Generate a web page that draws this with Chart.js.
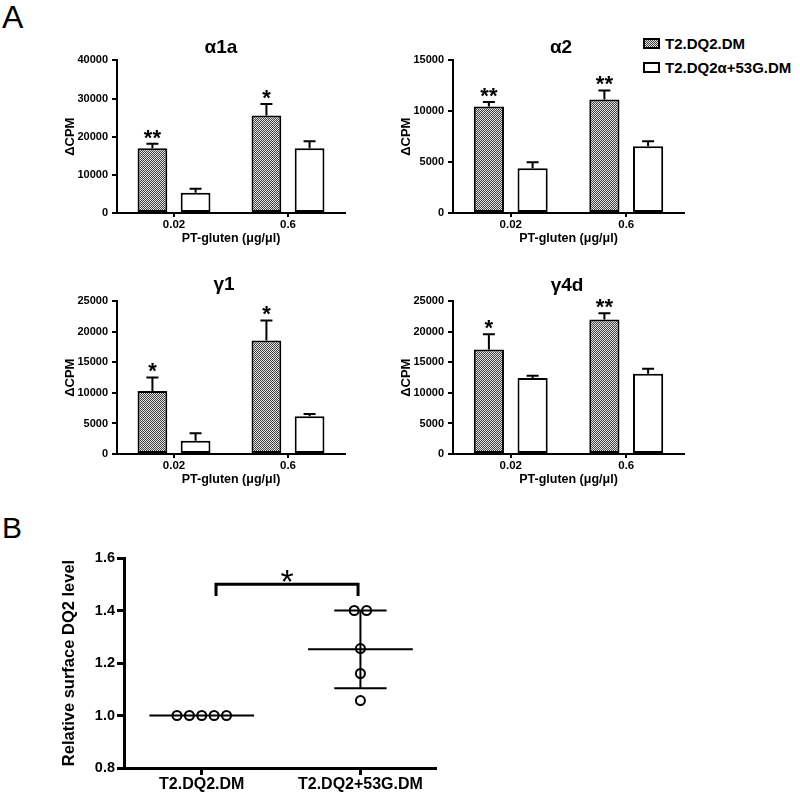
<!DOCTYPE html>
<html>
<head>
<meta charset="utf-8">
<script src="https://cdn.jsdelivr.net/npm/chart.js@4.4.0/dist/chart.umd.min.js"></script>
<style>
  html, body { margin: 0; padding: 0; background: #fff; width: 800px; height: 793px; overflow: hidden; }
  .box { position: absolute; }
  .lbl { position: absolute; font-family: 'Liberation Sans', Arial, sans-serif; color: #000; }
  #legend { position: absolute; left: 643px; top: 31px; font: bold 15px 'Liberation Sans', Arial, sans-serif; color: #000; }
  #legend .row { display: flex; align-items: center; height: 24px; white-space: nowrap; }
  #legend .sw { width: 13px; height: 7px; border: 2px solid #000; margin-right: 5px; background: #fff; }
  #legend .sw.pat { background: repeating-conic-gradient(#444 0% 25%, #e0e0e0 0% 50%) 0 0 / 2px 2px; }
</style>
</head>
<body>
<div class="lbl" style="left:2px;top:1px;font-size:32px;line-height:32px">A</div>
<div class="lbl" style="left:2px;top:513px;font-size:30px;line-height:30px">B</div>

<div id="legend">
  <div class="row"><span class="sw pat"></span>T2.DQ2.DM</div>
  <div class="row"><span class="sw"></span>T2.DQ2α+53G.DM</div>
</div>

<div class="box" style="left:63px;top:34px;width:316px;height:214px"><canvas id="cA1a"></canvas></div>
<div class="box" style="left:399px;top:34px;width:324px;height:214px"><canvas id="cA2"></canvas></div>
<div class="box" style="left:63px;top:271px;width:322px;height:218px"><canvas id="cG1"></canvas></div>
<div class="box" style="left:399px;top:272px;width:336px;height:217px"><canvas id="cG4d"></canvas></div>
<div class="box" style="left:60px;top:540px;width:385px;height:253px"><canvas id="cB"></canvas></div>

<script>
// ---- panel A data (ΔCPM, mean and upper error) ----
const doses = ['0.02', '0.6'];

const a1aDM = [16970, 25550];
const a1aDMErr = [1150, 3050];
const a1aG = [5330, 16970];
const a1aGErr = [1000, 1850];
const a1aStars = ['**', '*'];

const a2DM = [10470, 11160];
const a2DMErr = [430, 890];
const a2G = [4400, 6560];
const a2GErr = [590, 490];
const a2Stars = ['**', '**'];

const g1DM = [10340, 18600];
const g1DMErr = [2180, 3280];
const g1G = [2190, 6170];
const g1GErr = [1200, 400];
const g1Stars = ['*', '*'];

const g4dDM = [17120, 22040];
const g4dDMErr = [2510, 1030];
const g4dG = [12470, 13130];
const g4dGErr = [330, 820];
const g4dStars = ['*', '**'];

// ---- panel B data ----
const bGroups = ['T2.DQ2.DM', 'T2.DQ2+53G.DM'];
const bDM = [1.0, 1.0, 1.0, 1.0, 1.0];
const bG = [1.40, 1.40, 1.255, 1.16, 1.057];
const bMean = [1.0, 1.252];
const bSD = [0, 0.148];

const FONT = "'Liberation Sans', Arial, sans-serif";
Chart.defaults.font.family = FONT;
Chart.defaults.color = '#000';

function checker() {
  const c = document.createElement('canvas');
  c.width = 2; c.height = 2;
  const g = c.getContext('2d');
  g.fillStyle = '#e0e0e0';
  g.fillRect(0, 0, 2, 2);
  g.fillStyle = '#444';
  g.fillRect(0, 0, 1, 1);
  g.fillRect(1, 1, 1, 1);
  return g.createPattern(c, 'repeat');
}
const dotted = checker();

// upward error bars + significance stars
const errorBars = {
  id: 'errorBars',
  afterDatasetsDraw(chart) {
    const ctx = chart.ctx;
    const y = chart.scales.y;
    ctx.save();
    ctx.strokeStyle = '#000';
    ctx.fillStyle = '#000';
    ctx.lineWidth = 2;
    chart.data.datasets.forEach((ds, i) => {
      chart.getDatasetMeta(i).data.forEach((bar, j) => {
        const top = y.getPixelForValue(ds.data[j] + ds.errors[j]);
        ctx.beginPath();
        ctx.moveTo(bar.x, bar.y);
        ctx.lineTo(bar.x, top);
        ctx.moveTo(bar.x - 6, top);
        ctx.lineTo(bar.x + 6, top);
        ctx.stroke();
        if (ds.stars && ds.stars[j]) {
          ctx.font = 'bold 22px ' + FONT;
          ctx.textAlign = 'center';
          ctx.textBaseline = 'alphabetic';
          ctx.fillText(ds.stars[j], bar.x, top - 12 + 0.575 * 22);
        }
      });
    });
    ctx.restore();
  }
};

function barChart(id, title, dm, dmErr, g, gErr, stars, yMax, step, yW, padR, titleGap) {
  new Chart(document.getElementById(id), {
    type: 'bar',
    data: {
      labels: doses,
      datasets: [
        { label: 'T2.DQ2.DM', data: dm, errors: dmErr, stars: stars, backgroundColor: dotted },
        { label: 'T2.DQ2α+53G.DM', data: g, errors: gErr, backgroundColor: '#fff' }
      ].map(d => Object.assign(d, {
        yAxisID: 'y', borderColor: '#000', borderWidth: 2, borderSkipped: false,
        barPercentage: 0.69, categoryPercentage: 0.757
      }))
    },
    options: {
      responsive: true,
      maintainAspectRatio: false,
      animation: false,
      events: [],
      layout: { padding: 0 },
      plugins: {
        legend: { display: false },
        tooltip: { enabled: false },
        title: {
          display: true, text: title, color: '#000',
          font: { size: 19, weight: 'bold' },
          padding: { top: 2.6, bottom: titleGap }
        }
      },
      scales: {
        x: {
          offset: true,
          grid: { drawOnChartArea: false, offset: false, color: '#000', lineWidth: 2, tickLength: 4 },
          border: { color: '#000', width: 2 },
          ticks: { font: { size: 11.5, weight: 'bold' }, color: '#000', padding: 1, maxRotation: 0 },
          title: {
            display: true, text: 'PT-gluten (μg/μl)', color: '#000',
            font: { size: 12.5, weight: 'bold' }, padding: { top: 0, bottom: 2 }
          },
          afterFit: s => { s.height = 35; }
        },
        y: {
          min: 0, max: yMax,
          ticks: { stepSize: step, font: { size: 11, weight: 'bold' }, color: '#000', padding: 4, callback: v => String(v) },
          grid: { drawOnChartArea: false, color: '#000', lineWidth: 2, tickLength: 5 },
          border: { color: '#000', width: 2 },
          title: {
            display: true, text: 'ΔCPM', color: '#000',
            font: { size: 13, weight: 'bold' }, padding: { top: 0, bottom: 0 }
          },
          afterFit: s => { s.width = yW; }
        },
        pad: {
          type: 'linear', position: 'right', display: true,
          grid: { display: false }, border: { display: false }, ticks: { display: false },
          afterFit: s => { s.width = padR; }
        }
      }
    },
    plugins: [errorBars]
  });
}

barChart('cA1a', 'α1a', a1aDM, a1aDMErr, a1aG, a1aGErr, a1aStars, 40000, 10000, 54, 34, 1);
barChart('cA2', 'α2', a2DM, a2DMErr, a2G, a2GErr, a2Stars, 15000, 5000, 54, 39, 1);
barChart('cG1', 'γ1', g1DM, g1DMErr, g1G, g1GErr, g1Stars, 25000, 5000, 54, 40, 5);
barChart('cG4d', 'γ4d', g4dDM, g4dDMErr, g4dG, g4dGErr, g4dStars, 25000, 5000, 54, 51, 4);

// ---- panel B: dot plot with mean ± SD ----
// spread points with equal values side by side, like a scatter dot plot
function dots(values, group) {
  const step = 0.078;
  const seen = {};
  const counts = {};
  values.forEach(v => { counts[v] = (counts[v] || 0) + 1; });
  return values.map(v => {
    const k = seen[v] = (seen[v] === undefined ? 0 : seen[v] + 1);
    return { x: group + (k - (counts[v] - 1) / 2) * step, y: v };
  });
}

const meanSD = {
  id: 'meanSD',
  beforeDatasetsDraw(chart) {
    const { ctx, scales: { x, y } } = chart;
    ctx.save();
    ctx.strokeStyle = '#000';
    ctx.lineWidth = 2;
    bMean.forEach((m, i) => {
      const xc = x.getPixelForValue(i);
      const hw = x.getPixelForValue(i + 0.33) - xc;
      const cw = hw / 2;
      const ym = y.getPixelForValue(m);
      ctx.beginPath();
      ctx.moveTo(xc - hw, ym);
      ctx.lineTo(xc + hw, ym);
      if (bSD[i] > 0) {
        const yu = y.getPixelForValue(m + bSD[i]);
        const yl = y.getPixelForValue(m - bSD[i]);
        ctx.moveTo(xc, yu); ctx.lineTo(xc, yl);
        ctx.moveTo(xc - cw, yu); ctx.lineTo(xc + cw, yu);
        ctx.moveTo(xc - cw, yl); ctx.lineTo(xc + cw, yl);
      }
      ctx.stroke();
    });
    ctx.restore();
  },
  afterDatasetsDraw(chart, args, opts) {
    const { ctx, scales: { x, y } } = chart;
    const x1 = x.getPixelForValue(opts.x1);
    const x2 = x.getPixelForValue(opts.x2);
    const yb = y.getPixelForValue(opts.y);
    const yd = y.getPixelForValue(opts.y - opts.drop);
    ctx.save();
    ctx.strokeStyle = '#000';
    ctx.lineWidth = 3;
    ctx.beginPath();
    ctx.moveTo(x1, yd); ctx.lineTo(x1, yb); ctx.lineTo(x2, yb); ctx.lineTo(x2, yd);
    ctx.stroke();
    ctx.fillStyle = '#000';
    ctx.font = '34px ' + FONT;
    ctx.textAlign = 'center';
    ctx.textBaseline = 'alphabetic';
    ctx.fillText(opts.label, (x1 + x2) / 2, yb - 11 + 0.575 * 34);
    ctx.restore();
  }
};

new Chart(document.getElementById('cB'), {
  type: 'scatter',
  data: {
    datasets: [
      { label: bGroups[0], data: dots(bDM, 0) },
      { label: bGroups[1], data: dots(bG, 1) }
    ].map(d => Object.assign(d, {
      pointRadius: 4.5, pointBorderWidth: 2, borderColor: '#000', backgroundColor: 'rgba(0,0,0,0)'
    }))
  },
  options: {
    responsive: true,
    maintainAspectRatio: false,
    animation: false,
    events: [],
    layout: { padding: { top: 18, right: 10, left: 0, bottom: 0 } },
    plugins: {
      legend: { display: false },
      tooltip: { enabled: false },
      meanSD: { x1: 0.09, x2: 0.985, y: 1.5, drop: 0.045, label: '*' }
    },
    scales: {
      x: {
        type: 'linear', min: -0.49, max: 1.47,
        afterBuildTicks: s => { s.ticks = bGroups.map((_, i) => ({ value: i })); },
        ticks: { callback: v => bGroups[v], font: { size: 16, weight: 'bold' }, color: '#000', padding: 0, maxRotation: 0, autoSkip: false },
        grid: { drawOnChartArea: false, color: '#000', lineWidth: 3, tickLength: 7 },
        border: { color: '#000', width: 3 },
        afterFit: s => { s.height = 25; }
      },
      y: {
        min: 0.8, max: 1.6,
        ticks: { stepSize: 0.2, callback: v => v.toFixed(1), font: { size: 14.5, weight: 'bold' }, color: '#000', padding: 2 },
        grid: { drawOnChartArea: false, color: '#000', lineWidth: 3, tickLength: 7 },
        border: { color: '#000', width: 3 },
        title: {
          display: true, text: 'Relative surface DQ2 level', color: '#000',
          font: { size: 16.5, weight: 'bold' }, padding: { top: 0, bottom: 0 }
        },
        afterFit: s => { s.width = 64; }
      }
    }
  },
  plugins: [meanSD]
});
</script>
</body>
</html>
